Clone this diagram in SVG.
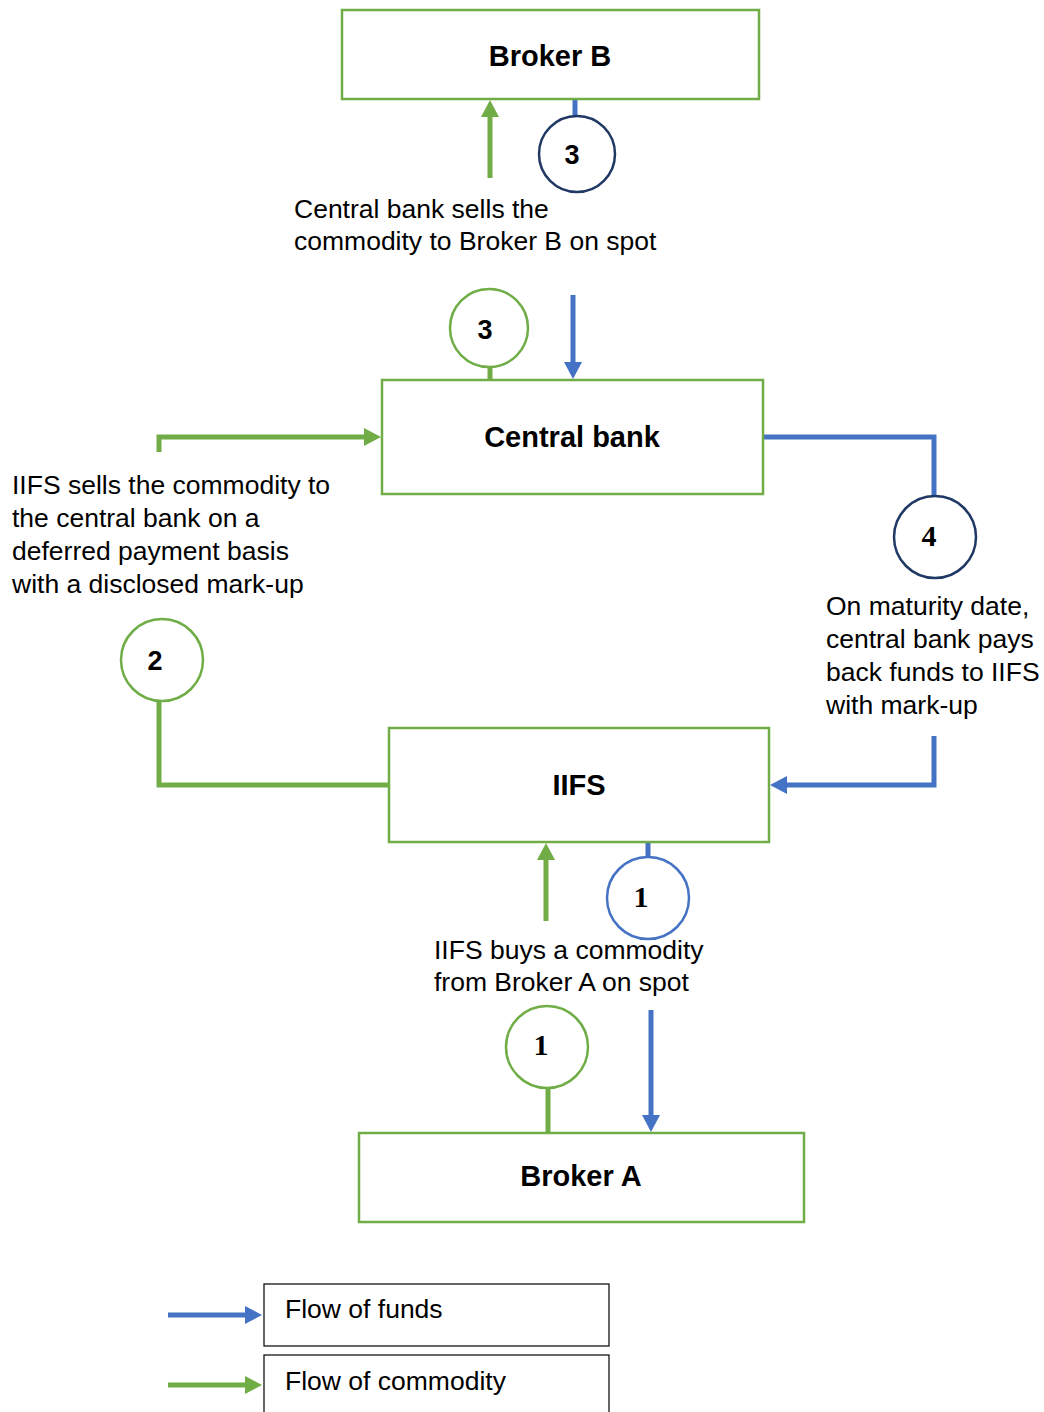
<svg xmlns="http://www.w3.org/2000/svg" width="1044" height="1412" viewBox="0 0 1044 1412">
<style>
.box{fill:#fff;stroke:#70AD47;stroke-width:2.5}
.lbox{fill:#fff;stroke:#000;stroke-width:1.2}
.title{font-family:"Liberation Sans",Arial,sans-serif;font-weight:bold;font-size:29px;fill:#000;text-anchor:middle}
.txt{font-family:"Liberation Sans",Arial,sans-serif;font-size:26.5px;fill:#000}
.num{font-family:"Liberation Sans",Arial,sans-serif;font-weight:bold;font-size:27px;fill:#000;text-anchor:middle}
.nums{font-family:"Liberation Serif","Times New Roman",serif;font-weight:bold;font-size:30px;fill:#000;text-anchor:middle}
.g{fill:none;stroke:#70AD47;stroke-width:5}
.b{fill:none;stroke:#4472C4;stroke-width:5}
.cg{fill:#fff;stroke:#70AD47;stroke-width:2.5}
.cb{fill:#fff;stroke:#4472C4;stroke-width:2.5}
.cn{fill:#fff;stroke:#203864;stroke-width:2.5}
</style>
<defs>
<marker id="ag" markerUnits="userSpaceOnUse" markerWidth="18" markerHeight="18" refX="0" refY="9" orient="auto"><path d="M0,0 L17,9 L0,18 z" fill="#70AD47"/></marker>
<marker id="ab" markerUnits="userSpaceOnUse" markerWidth="18" markerHeight="18" refX="0" refY="9" orient="auto"><path d="M0,0 L17,9 L0,18 z" fill="#4472C4"/></marker>
</defs>
<g id="connectors">
<line class="b" x1="575" y1="99" x2="575" y2="117"/>
<line class="g" x1="490" y1="178" x2="490" y2="117" marker-end="url(#ag)"/>
<line class="g" x1="490" y1="366" x2="490" y2="379"/>
<line class="b" x1="573" y1="295" x2="573" y2="362" marker-end="url(#ab)"/>
<polyline class="g" points="159,452 159,437 364,437" marker-end="url(#ag)"/>
<polyline class="b" points="763,437 934,437 934,497"/>
<polyline class="g" points="159,701 159,785 389,785"/>
<polyline class="b" points="934,736 934,785 787,785" marker-end="url(#ab)"/>
<line class="b" x1="648" y1="843" x2="648" y2="858"/>
<line class="g" x1="546" y1="921" x2="546" y2="860" marker-end="url(#ag)"/>
<line class="g" x1="548" y1="1087" x2="548" y2="1133"/>
<line class="b" x1="651" y1="1010" x2="651" y2="1115" marker-end="url(#ab)"/>
</g>
<g id="broker-b"><rect class="box" x="342" y="10" width="417" height="89"/><text class="title" x="550" y="66">Broker B</text></g>
<g id="step3-funds"><circle class="cn" cx="577" cy="154" r="38"/><text class="num" x="572" y="164">3</text></g>
<g id="label-3"><text class="txt" x="294" y="218">Central bank sells the</text><text class="txt" x="294" y="250">commodity to Broker B on spot</text></g>
<g id="step3-commodity"><circle class="cg" cx="489" cy="328" r="39"/><text class="num" x="485" y="339">3</text></g>
<g id="central-bank"><rect class="box" x="382" y="380" width="381" height="114"/><text class="title" x="572" y="447">Central bank</text></g>
<g id="label-2"><text class="txt" x="12" y="494">IIFS sells the commodity to</text><text class="txt" x="12" y="527">the central bank on a</text><text class="txt" x="12" y="560">deferred payment basis</text><text class="txt" x="12" y="593">with a disclosed mark-up</text></g>
<g id="step2"><circle class="cg" cx="162" cy="660" r="41"/><text class="num" x="155" y="670">2</text></g>
<g id="step4"><circle class="cn" cx="935" cy="537" r="41"/><text class="nums" x="929" y="546">4</text></g>
<g id="label-4"><text class="txt" x="826" y="615">On maturity date,</text><text class="txt" x="826" y="648">central bank pays</text><text class="txt" x="826" y="681">back funds to IIFS</text><text class="txt" x="826" y="714">with mark-up</text></g>
<g id="iifs"><rect class="box" x="389" y="728" width="380" height="114"/><text class="title" x="579" y="795">IIFS</text></g>
<g id="step1-funds"><circle class="cb" cx="648" cy="898" r="41"/><text class="nums" x="641" y="907">1</text></g>
<g id="label-1"><text class="txt" x="434" y="959">IIFS buys a commodity</text><text class="txt" x="434" y="991">from Broker A on spot</text></g>
<g id="step1-commodity"><circle class="cg" cx="547" cy="1047" r="41"/><text class="nums" x="541" y="1055">1</text></g>
<g id="broker-a"><rect class="box" x="359" y="1133" width="445" height="89"/><text class="title" x="581" y="1186">Broker A</text></g>
<g id="legend">
<rect class="lbox" x="264" y="1284" width="345" height="62"/>
<text class="txt" x="285" y="1318">Flow of funds</text>
<line class="b" x1="168" y1="1315" x2="245" y2="1315" marker-end="url(#ab)"/>
<rect class="lbox" x="264" y="1355" width="345" height="70"/>
<text class="txt" x="285" y="1390">Flow of commodity</text>
<line class="g" x1="168" y1="1385" x2="245" y2="1385" marker-end="url(#ag)"/>
</g>
</svg>
